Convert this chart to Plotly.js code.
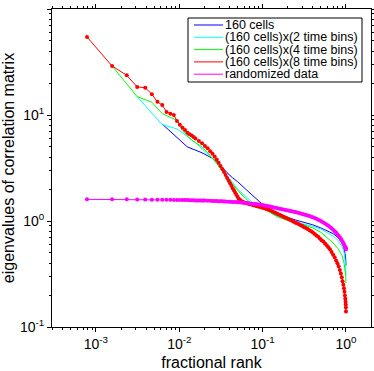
<!DOCTYPE html>
<html>
<head>
<meta charset="utf-8">
<script src="https://cdn.plot.ly/plotly-3.0.1.min.js"></script>
<style>
html, body { margin: 0; padding: 0; background: #fff; }
#chart { width: 374px; height: 371px; }
</style>
</head>
<body>
<div id="chart"></div>
<script>
var CHART = document.getElementById("chart");

var seriesNames = ["160 cells",
    "(160 cells)x(2 time bins)",
    "(160 cells)x(4 time bins)",
    "(160 cells)x(8 time bins)",
    "randomized data"];
var seriesColors = ["#0000ff", "#00ffff", "#00ff00", "#ff0000", "#ff00ff"];
var matrixSizes = [160, 320, 640, 1280, 1280];

var rank160 = [1, 2, 3, 4, 5, 6, 7, 8, 10, 12, 16, 20, 24, 32, 40, 48, 64, 80, 96, 112, 128, 136, 144, 150, 155, 158, 160];
var eig160 = [8.2, 5.0, 4.4, 3.9, 3.35, 2.85, 2.55, 2.35, 2.0, 1.75, 1.43, 1.28, 1.19, 1.08, 1.02, 0.98, 0.92, 0.86, 0.81, 0.76, 0.70, 0.66, 0.62, 0.58, 0.52, 0.46, 0.38];

var rank320 = [1, 2, 3, 4, 5, 6, 7, 8, 10, 12, 14, 16, 20, 24, 32, 40, 48, 64, 96, 128, 160, 192, 224, 256, 288, 304, 312, 316, 320];
var eig320 = [14.9, 8.1, 7.4, 6.3, 5.5, 4.8, 4.3, 3.9, 3.2, 2.7, 2.3, 2.0, 1.7, 1.5, 1.33, 1.2, 1.10, 1.02, 0.95, 0.89, 0.84, 0.78, 0.72, 0.66, 0.57, 0.50, 0.44, 0.39, 0.31];

var rank640 = [1, 2, 3, 4, 5, 6, 7, 8, 9, 10, 12, 14, 16, 18, 20, 24, 28, 32, 40, 48, 64, 80, 96, 128, 160, 192, 256, 320, 384, 448, 512, 576, 608, 627, 635, 640];
var eig640 = [29, 14.9, 13.2, 10.3, 9.5, 8.9, 7.1, 6.3, 5.8, 5.5, 5.0, 4.4, 3.9, 3.5, 3.1, 2.6, 2.2, 1.95, 1.62, 1.45, 1.32, 1.20, 1.10, 1.01, 0.97, 0.93, 0.86, 0.78, 0.69, 0.62, 0.55, 0.47, 0.40, 0.34, 0.30, 0.26];

var rankBins8 = [1, 2, 3, 4, 5, 6, 7, 8, 9, 10, 11, 12, 13, 14, 15, 16, 17, 18, 19, 20,
    22, 24, 26, 28, 30, 32, 34, 36, 38, 40, 42, 44, 46, 48, 50, 52, 54, 56, 58, 60, 62, 64, 66, 68, 70,
    74, 78, 82, 86, 90, 95, 100, 105, 110, 116, 122, 128,
    135, 142, 150, 158, 166, 175, 184, 193, 203, 213, 224, 235, 247, 260, 273,
    287, 301, 316, 332, 349, 366, 384, 403, 423, 444, 466, 489, 513, 538, 565,
    593, 622, 652, 684, 717, 751, 786, 822, 859, 897, 935, 973, 1010, 1045, 1080,
    1110, 1140, 1165, 1190, 1210, 1228, 1243, 1255, 1264, 1271, 1276, 1280];
var eigBins8 = [54.5, 29, 23.7, 18.4, 18.1, 15.7, 13.3, 12.4, 10.7, 10.3, 10.0, 8.8, 8.1, 7.6, 7.2, 6.8, 6.6, 6.4, 6.2, 6.0,
    5.7, 5.4, 5.1, 4.85, 4.55, 4.3, 4.05, 3.8, 3.55, 3.3, 3.1, 2.9, 2.72, 2.55, 2.4, 2.27, 2.15, 2.04, 1.94, 1.85, 1.77, 1.69, 1.62, 1.585, 1.56,
    1.52, 1.49, 1.47, 1.455, 1.44, 1.425, 1.41, 1.395, 1.38, 1.365, 1.35, 1.335,
    1.32, 1.30, 1.28, 1.26, 1.235, 1.21, 1.19, 1.165, 1.145, 1.125, 1.105, 1.085, 1.065, 1.045, 1.025,
    1.005, 0.985, 0.965, 0.95, 0.93, 0.91, 0.895, 0.875, 0.86, 0.84, 0.82, 0.80, 0.78, 0.755, 0.73,
    0.71, 0.685, 0.66, 0.64, 0.615, 0.59, 0.565, 0.54, 0.51, 0.48, 0.455, 0.425, 0.40, 0.375, 0.345,
    0.32, 0.295, 0.27, 0.25, 0.232, 0.215, 0.198, 0.185, 0.173, 0.163, 0.153, 0.14];

var rankRandom = [1, 2, 3, 4, 5, 6, 7, 8, 9, 10, 11, 12, 13, 14, 15, 16, 17, 18, 19, 20,
    21, 22, 23, 24, 25, 26, 28, 30, 32, 34, 36, 38, 40, 42, 44, 46, 49, 52, 55, 58,
    61, 64, 67, 70, 74, 78, 82, 86, 90, 95, 100, 105, 110, 116, 122, 128,
    135, 142, 150, 158, 166, 175, 184, 193, 203, 213, 224, 235, 247, 260, 273,
    287, 301, 316, 332, 349, 366, 384, 403, 423, 444, 466, 489, 513, 538, 565,
    593, 622, 652, 684, 717, 751, 786, 822, 859, 897, 935, 973, 1010, 1045, 1080,
    1110, 1140, 1165, 1190, 1210, 1228, 1243, 1255, 1264, 1271, 1276, 1280];
var eigRandom = [1.60, 1.60, 1.60, 1.595, 1.595, 1.59, 1.59, 1.59, 1.585, 1.585, 1.58, 1.58, 1.58, 1.575, 1.575, 1.575, 1.57, 1.57, 1.57, 1.565,
    1.564, 1.562, 1.561, 1.56, 1.558, 1.557, 1.554, 1.551, 1.548, 1.545, 1.542, 1.538, 1.535, 1.532, 1.529, 1.526, 1.522, 1.518, 1.514, 1.51,
    1.507, 1.504, 1.50, 1.496, 1.49, 1.484, 1.477, 1.47, 1.464, 1.457, 1.45, 1.443, 1.436, 1.428, 1.42, 1.412,
    1.402, 1.392, 1.38, 1.368, 1.356, 1.343, 1.331, 1.32, 1.308, 1.297, 1.286, 1.276, 1.265, 1.254, 1.244,
    1.234, 1.224, 1.213, 1.202, 1.19, 1.178, 1.166, 1.153, 1.14, 1.127, 1.113, 1.098, 1.083, 1.066, 1.048,
    1.03, 1.01, 0.99, 0.968, 0.946, 0.924, 0.902, 0.878, 0.853, 0.828, 0.802, 0.777, 0.751, 0.727, 0.703,
    0.68, 0.658, 0.638, 0.618, 0.602, 0.588, 0.576, 0.566, 0.558, 0.552, 0.546, 0.54];

var xTickVals = [0.001, 0.01, 0.1, 1];
var xTickText = ["10<sup>-3</sup>", "10<sup>-2</sup>", "10<sup>-1</sup>", "10<sup>0</sup>"];
var yTickVals = [0.1, 1, 10, 100];
var yTickText = ["10<sup>-1</sup>", "10<sup>0</sup>", "10<sup>1</sup>", "10<sup>2</sup>"];

var ranks = [rank160, rank320, rank640, rankBins8, rankRandom];
var eigs = [eig160, eig320, eig640, eigBins8, eigRandom];

var data = [];
for (var i = 0; i < 5; i++) {
    var n = matrixSizes[i];
    var withDots = (i >= 3);
    data.push({
        x: ranks[i].map(function (k) { return k / n; }),
        y: eigs[i],
        name: seriesNames[i],
        type: 'scatter',
        mode: withDots ? 'lines+markers' : 'lines',
        line: { color: seriesColors[i], width: 1 },
        marker: { color: seriesColors[i], size: 4 },
    });
}

function minorTicks(lo, hi) {
    var out = [];
    for (var e = lo; e < hi; e++) {
        for (var m = 2; m <= 9; m++) out.push(m * Math.pow(10, e));
    }
    return out;
}

// hand-made legend (gnuplot-like tight rows), pixel spots turned into paper coords
var plotL = 52, plotR = 371, plotT = 9, plotB = 327;
function px(v) { return (v - plotL) / (plotR - plotL); }
function py(v) { return (plotB - v) / (plotB - plotT); }

var shapes = [{
    type: 'rect', xref: 'paper', yref: 'paper',
    x0: px(188), x1: px(362), y0: py(82), y1: py(18),
    line: { color: '#000', width: 1 }, fillcolor: 'white', layer: 'above'
}];
var annotations = [];
for (var j = 0; j < seriesNames.length; j++) {
    var rowY = 25 + j * 12.3;
    shapes.push({
        type: 'line', xref: 'paper', yref: 'paper',
        x0: px(194), x1: px(223), y0: py(rowY), y1: py(rowY),
        line: { color: seriesColors[j], width: 1 }, layer: 'above'
    });
    annotations.push({
        xref: 'paper', yref: 'paper', x: px(224), y: py(rowY),
        xanchor: 'left', yanchor: 'middle', showarrow: false,
        text: seriesNames[j], font: { size: 12.5 }, borderpad: 0
    });
}

var axisCommon = {
    type: 'log',
    tickmode: 'array',
    showgrid: false,
    zeroline: false,
    showline: true,
    linecolor: '#000',
    linewidth: 1,
    mirror: 'allticks',
    ticks: 'outside',
    ticklen: 4,
    tickcolor: '#000',
    tickfont: { size: 14 },
};

var layout = {
    width: 374,
    height: 371,
    margin: { l: plotL, r: 374 - plotR, t: plotT, b: 371 - plotB },
    showlegend: false,
    paper_bgcolor: 'white',
    plot_bgcolor: 'white',
    font: { family: 'Liberation Sans, Arial, sans-serif', size: 14, color: '#000' },
    xaxis: Object.assign({}, axisCommon, {
        range: [-3.527, 0.30],
        tickvals: xTickVals,
        ticktext: xTickText,
        minor: { tickmode: 'array', tickvals: minorTicks(-4, 1), ticks: 'outside', ticklen: 2, tickcolor: '#000' },
        title: { text: 'fractional rank', font: { size: 16 }, standoff: 6 },
    }),
    yaxis: Object.assign({}, axisCommon, {
        range: [-1, 2],
        tickvals: yTickVals,
        ticktext: yTickText,
        minor: { tickmode: 'array', tickvals: minorTicks(-1, 2), ticks: 'outside', ticklen: 2, tickcolor: '#000' },
        title: { text: 'eigenvalues of correlation matrix', font: { size: 16 }, standoff: 6 },
    }),
    shapes: shapes,
    annotations: annotations,
};

var config = { responsive: false, displayModeBar: false, staticPlot: true };
Plotly.newPlot(CHART, data, layout, config);
</script>
</body>
</html>
